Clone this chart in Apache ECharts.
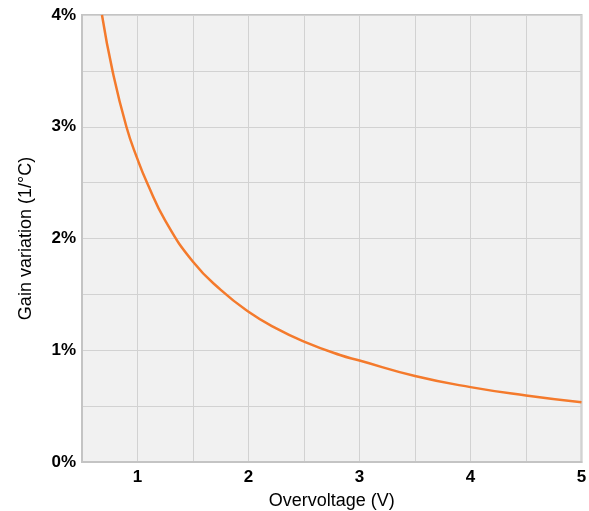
<!DOCTYPE html>
<html>
<head>
<meta charset="utf-8">
<script src="https://cdn.jsdelivr.net/npm/echarts@6/dist/echarts.min.js"></script>
<style>
html,body{margin:0;padding:0;background:#fff;}
#c{width:589px;height:511px;}
</style>
</head>
<body>
<div id="c"></div>
<script>
// Overvoltage (V)
var overvoltage = [0.68, 0.775, 0.9, 1.0, 1.09, 1.25, 1.5, 1.75, 2.0, 2.25, 2.5, 2.824, 3.0, 3.5, 4.0, 4.5, 5.0];
// Gain variation (%/°C)
var gainVariation = [4.0, 3.5, 3.0, 2.71, 2.49, 2.16, 1.792, 1.54, 1.345, 1.195, 1.077, 0.957, 0.908, 0.77, 0.67, 0.595, 0.534];
var xTickLabels = [1, 2, 3, 4, 5];
var yTickLabels = [0, 1, 2, 3, 4];

var seriesData = overvoltage.map(function (v, i) { return [v, gainVariation[i]]; });

var chart = echarts.init(document.getElementById('c'), null, {renderer: 'canvas'});
chart.setOption({
  animation: false,
  grid: {
    left: 82, right: 7.5, top: 15, bottom: 49,
    outerBoundsMode: 'none', containLabel: false,
    show: true, backgroundColor: '#f1f1f1', borderColor: '#c4c4c4', borderWidth: 2
  },
  xAxis: {
    type: 'value', min: 0.5, max: 5, interval: 0.5,
    name: 'Overvoltage (V)', nameLocation: 'middle', nameGap: 30,
    nameTextStyle: {color: '#000', fontSize: 18, fontFamily: 'Liberation Sans'},
    axisLine: {show: true, lineStyle: {color: '#c4c4c4', width: 2}},
    axisTick: {show: false},
    splitLine: {show: true, lineStyle: {color: '#d2d2d2', width: 1}},
    axisLabel: {
      color: '#000', fontSize: 17, fontWeight: 'bold', fontFamily: 'Liberation Sans', margin: 7,
      formatter: function (v) { return xTickLabels.indexOf(v) >= 0 ? String(v) : ''; }
    }
  },
  yAxis: {
    type: 'value', min: 0, max: 4, interval: 0.5,
    name: 'Gain variation (1/°C)', nameLocation: 'middle', nameGap: 47, nameRotate: 90,
    nameTextStyle: {color: '#000', fontSize: 18, fontFamily: 'Liberation Sans'},
    axisLine: {show: true, lineStyle: {color: '#c4c4c4', width: 2}},
    axisTick: {show: false},
    splitLine: {show: true, lineStyle: {color: '#d2d2d2', width: 1}},
    axisLabel: {
      color: '#000', fontSize: 17, fontWeight: 'bold', fontFamily: 'Liberation Sans', margin: 6,
      formatter: function (v) { return yTickLabels.indexOf(v) >= 0 ? v + '%' : ''; }
    }
  },
  series: [{
    type: 'line', data: seriesData, smooth: 0.5, showSymbol: false, clip: true,
    lineStyle: {color: '#f47a2c', width: 2.5}
  }]
});
</script>
</body>
</html>
